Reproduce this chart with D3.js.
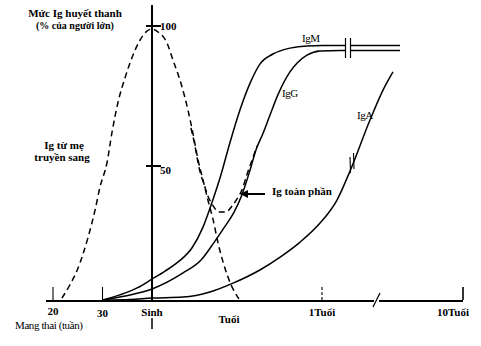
<!DOCTYPE html>
<html><head><meta charset="utf-8">
<script src="https://cdn.jsdelivr.net/npm/d3@7"></script>
<style>
body{margin:0;background:#fff;}
svg{display:block;}
text{font-family:"Liberation Serif","Times New Roman",serif;fill:#000;}
.b{font-weight:bold;}
</style></head><body>
<script>
// x values: weeks since conception (birth = 40, 1 year = 92, 10 years = 560)
const maternalWeeks = [21.8,23.4,24.9,27.1,28.5,29.5,30.9,31.9,33.1,34.6,36.0,37.6,38.8,40,41.8,44.6,46.4,49.2,51.0,52.5,54.1,55.6,57.1,58.7,60.2,62.0,64.2,66.6];
const maternalValues = [0.7,5.6,11.2,23.5,33.6,42.2,51.1,61.8,72.5,81.8,88.9,95.0,97.9,98.9,97.9,93.9,87.9,78.2,70.0,61.8,52.1,44.8,37.3,29.9,21.3,13.1,5.6,0.4];

const igmWeeks = [30.1,33.5,37.0,40,44.0,48.0,52.2,55.6,58.4,60.8,63.9,66.9,70.0,73.0,77.0,82.2,87.4,92,351];
const igmValues = [0,1.9,4.5,7.8,10.8,14.2,19.4,27.2,36.6,45.5,58.6,70.0,79.6,86.4,90.0,92.1,92.9,93.0,93.0];

const iggWeeks = [30.1,34.6,40,49.5,55.0,58.9,62.0,65.1,67.5,70.0,71.8,74.0,76.1,78.5,82.2,84.4,87.4,91.4,151.7,351];
const iggValues = [0,1.5,4.1,10.1,14.9,21.3,26.9,32.8,39.2,48.5,55.7,61.8,68.2,75.4,83.6,86.8,89.6,91.1,91.25,91.25];

const igaWeeks = [30.1,35.6,40,49.5,57.7,64.8,73.0,79.2,85.3,91.4,141.8,185.0,251.3,294.5,327.6];
const igaValues = [0,0.2,0.7,1.1,3.0,6.3,11.2,16.0,21.6,28.7,37.3,48.1,66.4,77.1,83.6];

const totalWeeks = [51.9,52.9,53.8,54.7,55.9,57.1,58.7,60.5,62.6,64.5,66.0,67.5,69.1,70.6,72.1];
const totalValues = [63.6,58.6,52.9,47.8,43.3,38.8,35.1,32.8,32.8,35.1,37.7,41.0,47.0,52.1,57.1];

const xTickValues = [20,30,40,92,560];
const xTickLabels = ["20","30","Sinh","1Tuổi","10Tuổi"];
const yTickValues = [50,100];
const yTickLabels = ["50","100"];

const W=481,H=346;
const svg=d3.select("body").append("svg").attr("width",W).attr("height",H);

const x=d3.scaleLinear().domain([20,40,92,560]).range([53,152,322,463]);
const y=d3.scaleLinear().domain([0,50,100]).range([300,166,26]);

const line=(xs,vs)=>d3.line().curve(d3.curveMonotoneX)(xs.map((w,i)=>[x(w),y(vs[i])]));

// baseline
const x0=x.invert(46);
svg.append("line").attr("x1",x(x0)).attr("x2",x(560)).attr("y1",y(0)+1).attr("y2",y(0)+1)
  .attr("stroke","#000").attr("stroke-width",2);
// vertical axis at birth
svg.append("line").attr("x1",x(40)).attr("x2",x(40)).attr("y1",5).attr("y2",y(0)+1)
  .attr("stroke","#000").attr("stroke-width",2);
svg.append("line").attr("x1",x(40)).attr("x2",x(40)).attr("y1",318).attr("y2",329)
  .attr("stroke","#000").attr("stroke-width",1.5);

// y ticks
yTickValues.forEach((v,i)=>{
  svg.append("line").attr("x1",x(40)-6).attr("x2",x(40)+9).attr("y1",y(v)).attr("y2",y(v))
    .attr("stroke","#000").attr("stroke-width",2);
  svg.append("text").attr("class","b").attr("x",x(40)+8).attr("y",y(v)+(v===100?4:8))
    .attr("font-size",11).text(yTickLabels[i]);
});

// x ticks
const labelDy={20:15,30:17,40:16,92:16,560:16};
xTickValues.forEach((v,i)=>{
  if(v!==40){
    svg.append("line").attr("x1",x(v)).attr("x2",x(v)).attr("y1",287).attr("y2",y(0))
      .attr("stroke","#000").attr("stroke-width",v===560?1.6:1.1)
      .attr("stroke-dasharray",v===92?"3,2":null);
  }
  svg.append("text").attr("class","b").attr("x",x(v)-(v===560?10:0)).attr("y",y(0)+labelDy[v])
    .attr("text-anchor","middle").attr("font-size",11).text(xTickLabels[i]);
});
svg.append("text").attr("class","b").attr("x",229).attr("y",323).attr("text-anchor","middle")
  .attr("font-size",11).text("Tuổi");
svg.append("text").attr("x",15).attr("y",329).attr("font-size",11)
  .attr("letter-spacing",-0.4).text("Mang thai (tuần)");

// axis break slash
svg.append("rect").attr("x",374).attr("y",296).attr("width",5).attr("height",8).attr("fill","#fff");
svg.append("line").attr("x1",373).attr("y1",307).attr("x2",380).attr("y2",293)
  .attr("stroke","#000").attr("stroke-width",1.3);

// curves
const addPath=(d,dash)=>svg.append("path").attr("d",d).attr("fill","none").attr("stroke","#000")
  .attr("stroke-width",1.5).attr("stroke-dasharray",dash||null);
addPath(line(maternalWeeks,maternalValues),"6,4");
addPath(line(totalWeeks,totalValues),"6,4");
addPath(line(igmWeeks,igmValues));
addPath(line(iggWeeks,iggValues));
addPath(line(igaWeeks,igaValues));

// break on IgM/IgG plateau
svg.append("rect").attr("x",346).attr("y",40).attr("width",4).attr("height",16).attr("fill","#fff");
[345.5,350.5].forEach(px=>svg.append("line").attr("x1",px).attr("x2",px).attr("y1",38).attr("y2",58)
  .attr("stroke","#000").attr("stroke-width",1.2));
// break marks on IgA
[[350,157,350.5,173],[353.5,153,354,169]].forEach(s=>svg.append("line").attr("x1",s[0]).attr("y1",s[1])
  .attr("x2",s[2]).attr("y2",s[3]).attr("stroke","#000").attr("stroke-width",1.1));

// labels
svg.append("text").attr("class","b").attr("x",75).attr("y",17).attr("text-anchor","middle").attr("font-size",11).text("Mức Ig huyết thanh");
svg.append("text").attr("class","b").attr("x",75).attr("y",29).attr("text-anchor","middle").attr("font-size",10).text("(% của người lớn)");
svg.append("text").attr("class","b").attr("x",64).attr("y",149).attr("text-anchor","middle").attr("font-size",11).text("Ig từ mẹ");
svg.append("text").attr("class","b").attr("x",62).attr("y",161).attr("text-anchor","middle").attr("font-size",11).text("truyền sang");
svg.append("text").attr("x",302).attr("y",42).attr("font-size",11).attr("letter-spacing",-0.5).text("IgM");
svg.append("text").attr("x",282).attr("y",97).attr("font-size",11).attr("letter-spacing",-0.5).text("IgG");
svg.append("text").attr("x",357).attr("y",119).attr("font-size",11).attr("letter-spacing",-0.5).text("IgA");
svg.append("text").attr("class","b").attr("x",272).attr("y",195).attr("font-size",11).text("Ig toàn phần");

// arrow
svg.append("defs").append("marker").attr("id","ah").attr("viewBox","0 0 10 10").attr("refX",9).attr("refY",5)
  .attr("markerWidth",4).attr("markerHeight",4).attr("orient","auto")
  .append("path").attr("d","M0,0L10,5L0,10z").attr("fill","#000");
svg.append("line").attr("x1",265).attr("y1",194).attr("x2",241).attr("y2",194)
  .attr("stroke","#000").attr("stroke-width",2).attr("marker-end","url(#ah)");
</script>
</body></html>
